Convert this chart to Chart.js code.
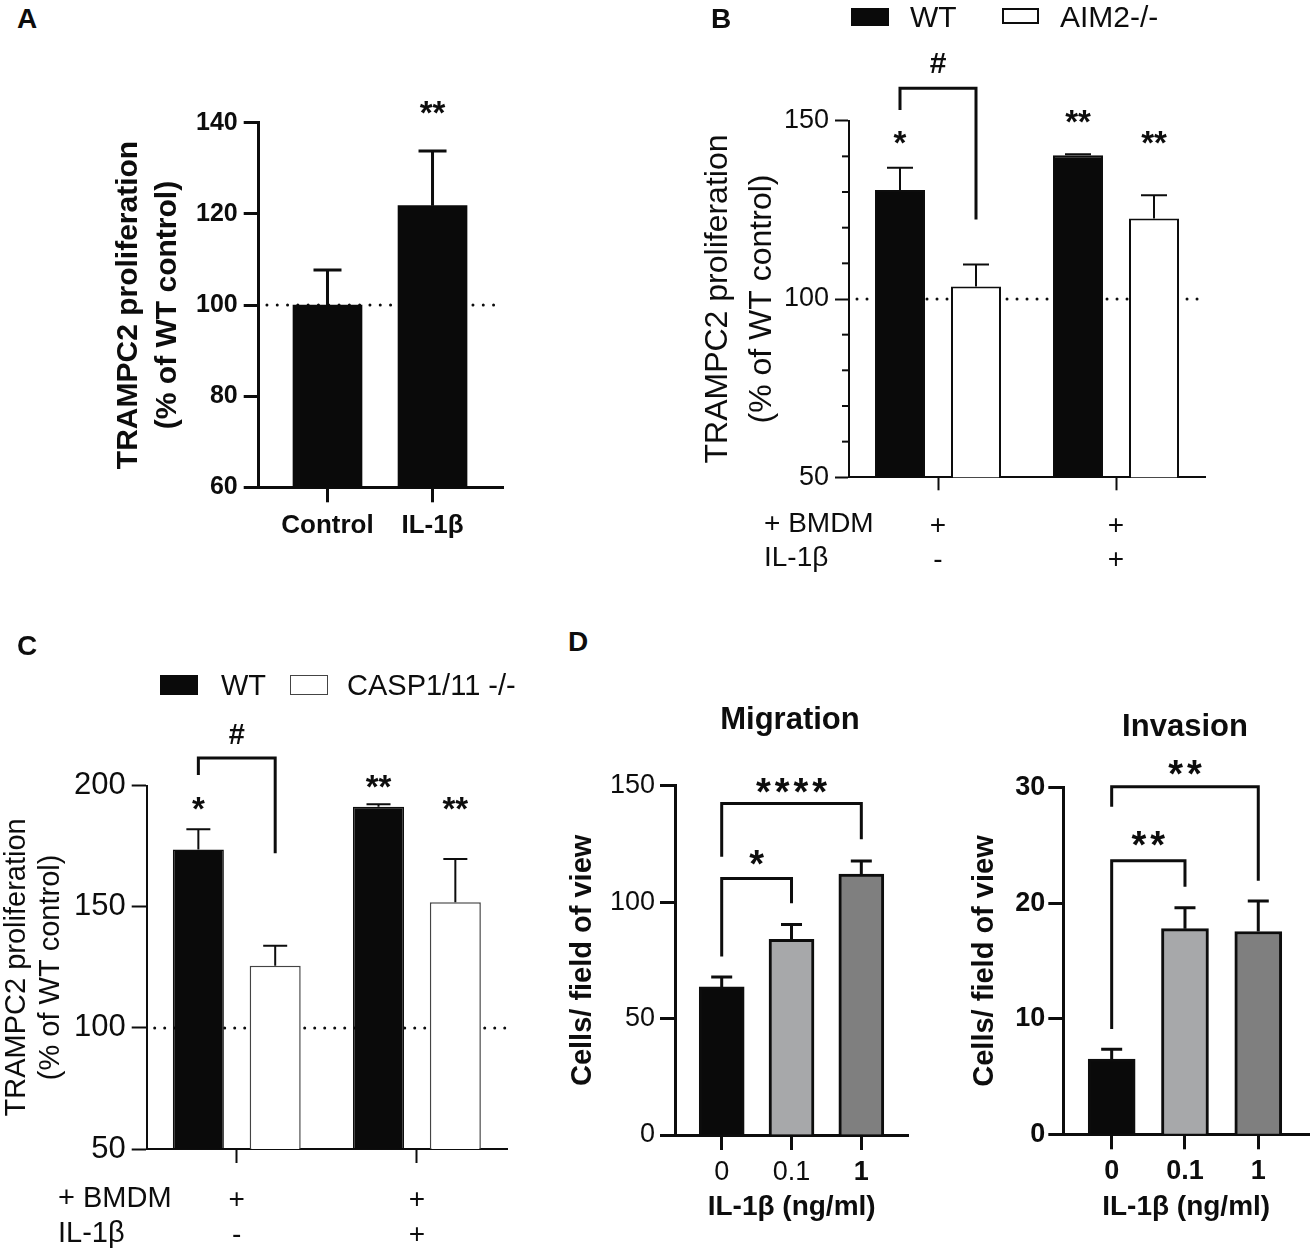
<!DOCTYPE html>
<html><head><meta charset="utf-8">
<script src="https://cdn.jsdelivr.net/npm/chart.js@4.4.1/dist/chart.umd.min.js"></script>
<style>
html,body{margin:0;padding:0;background:#fff;}
#page{position:relative;width:1312px;height:1249px;overflow:hidden;background:#fff;font-family:'Liberation Sans',Arial,sans-serif;color:#0d0d0d;}
canvas{position:absolute;}
.t{position:absolute;white-space:nowrap;line-height:1;}
.c{transform:translate(-50%,-50%);}
.l{transform:translate(0,-50%);}
.box{position:absolute;box-sizing:border-box;}
</style></head>
<body><div id="page">
<canvas id="cA"></canvas>
<canvas id="cB"></canvas>
<canvas id="cC"></canvas>
<canvas id="cDm"></canvas>
<canvas id="cDi"></canvas>

<div class="t c" style="left:27px;top:19px;font-size:28px;font-weight:bold">A</div>
<div class="t c" style="left:721px;top:19px;font-size:28px;font-weight:bold">B</div>
<div class="t c" style="left:27px;top:646px;font-size:28px;font-weight:bold">C</div>
<div class="t c" style="left:578px;top:642px;font-size:28px;font-weight:bold">D</div>

<div class="box" style="left:851px;top:8px;width:38px;height:18px;background:#0a0a0a"></div>
<div class="t l" id="bLeg1" style="left:910px;top:17px;font-size:30px"></div>
<div class="box" style="left:1002px;top:8px;width:37px;height:16px;border:2px solid #0d0d0d;background:#fff"></div>
<div class="t l" id="bLeg2" style="left:1060px;top:17px;font-size:30px"></div>

<div class="box" style="left:160px;top:675px;width:38px;height:20px;background:#0a0a0a"></div>
<div class="t l" id="cLeg1" style="left:221px;top:685px;font-size:29px"></div>
<div class="box" style="left:290px;top:675px;width:38px;height:20px;border:1.5px solid #444;background:#fff"></div>
<div class="t l" id="cLeg2" style="left:347px;top:685px;font-size:29px"></div>

<div class="t l" style="left:764px;top:523px;font-size:28px">+ BMDM</div>
<div class="t l" style="left:764px;top:557px;font-size:28px">IL-1β</div>
<div class="t l" style="left:58px;top:1197px;font-size:29px">+ BMDM</div>
<div class="t l" style="left:58px;top:1232px;font-size:29px">IL-1β</div>

<div class="t c" style="left:790px;top:718px;font-size:31px;font-weight:bold">Migration</div>
<div class="t c" style="left:1185px;top:725px;font-size:31px;font-weight:bold">Invasion</div>
</div>
<script>
const FONT = "'Liberation Sans', Arial, sans-serif";
const INK = '#0d0d0d';

// ---------- Panel A ----------
const aCategories = ['Control', 'IL-1β'];
const aValues = [100, 121.8];
const aErrors = [7.7, 12.0];
const aSignificance = ['', '**'];

// ---------- Panel B ----------
const bGroups = [['+', '-'], ['+', '+']];
const bSeries = ['WT', 'AIM2-/-'];
const bWT = [130.6, 140.3];
const bWTErr = [6.2, 0.3];
const bAIM2 = [103.5, 122.6];
const bAIM2Err = [6.2, 6.5];
const bWTSignificance = ['*', '**'];
const bAIM2Significance = ['', '**'];
const bComparison = '#';

// ---------- Panel C ----------
const cGroups = [['+', '-'], ['+', '+']];
const cSeries = ['WT', 'CASP1/11 -/-'];
const cWT = [173.7, 191.3];
const cWTErr = [8.3, 1.0];
const cCASP = [125.7, 151.9];
const cCASPErr = [8.2, 17.8];
const cWTSignificance = ['*', '**'];
const cCASPSignificance = ['', '**'];
const cComparison = '#';

// ---------- Panel D ----------
const dDoses = ['0', '0.1', '1'];
const dMigration = [63.6, 84.0, 112.0];
const dMigrationErr = [4.3, 6.4, 5.7];
const dMigrationComparisons = [[0, 1, '*'], [0, 2, '****']];
const dInvasion = [6.5, 17.8, 17.55];
const dInvasionErr = [0.87, 1.8, 2.65];
const dInvasionComparisons = [[0, 1, '**'], [0, 2, '**']];

document.getElementById('bLeg1').textContent = bSeries[0];
document.getElementById('bLeg2').textContent = bSeries[1];
document.getElementById('cLeg1').textContent = cSeries[0];
document.getElementById('cLeg2').textContent = cSeries[1];

function drawMark(ctx, text, x, py, f) {
  if (!text) return;
  ctx.font = `${f.weight} ${f.size}px ${FONT}`;
  const sp = f.spacing || 0;
  try { ctx.letterSpacing = sp + 'px'; } catch (e) {}
  ctx.textAlign = 'center';
  ctx.textBaseline = 'alphabetic';
  const k = text.includes('#') ? 0.35 : 0.585;
  ctx.fillText(text, x + sp / 2, py + k * f.size);
  try { ctx.letterSpacing = '0px'; } catch (e) {}
}

const annot = {
  id: 'annot',
  beforeDatasetsDraw(chart, args, o) {
    if (o.refLine == null) return;
    const {ctx, chartArea: a, scales: {y}} = chart;
    const py = y.getPixelForValue(o.refLine);
    ctx.save();
    ctx.strokeStyle = INK; ctx.lineWidth = o.dot; ctx.lineCap = 'round';
    ctx.setLineDash([0.001, o.gap]);
    ctx.beginPath(); ctx.moveTo(a.left + o.gap * 0.8, py); ctx.lineTo(a.right - 1, py); ctx.stroke();
    ctx.restore();
  },
  afterDraw(chart, args, o) {
    const {ctx, chartArea: a, scales: {y}} = chart;
    ctx.save();
    ctx.strokeStyle = INK; ctx.fillStyle = INK; ctx.lineCap = 'butt'; ctx.lineJoin = 'miter';
    if (o.minor) {
      ctx.lineWidth = o.minor.width;
      for (let v = y.min; v <= y.max + 1e-9; v += o.minor.step) {
        if (Math.abs(v % o.minor.major) < 1e-9) continue;
        const py = y.getPixelForValue(v);
        ctx.beginPath(); ctx.moveTo(a.left - o.minor.len, py); ctx.lineTo(a.left, py); ctx.stroke();
      }
    }
    const bar = (ds, i) => chart.getDatasetMeta(ds).data[i];
    const val = (ds, i) => { const d = chart.data.datasets[ds].data[i]; return typeof d === 'object' ? d.y : d; };
    ctx.lineWidth = o.errWidth;
    (o.errors || []).forEach((errs, ds) => errs.forEach((e, i) => {
      const b = bar(ds, i), v = val(ds, i);
      const y0 = y.getPixelForValue(v), y1 = y.getPixelForValue(v + e);
      ctx.beginPath(); ctx.moveTo(b.x, y0); ctx.lineTo(b.x, y1);
      ctx.moveTo(b.x - o.cap / 2, y1); ctx.lineTo(b.x + o.cap / 2, y1); ctx.stroke();
    }));
    ctx.lineWidth = o.bracketWidth || 3;
    (o.brackets || []).forEach(br => {
      const x1 = bar(br.from[0], br.from[1]).x, x2 = bar(br.to[0], br.to[1]).x;
      const yt = y.getPixelForValue(br.top);
      ctx.beginPath();
      ctx.moveTo(x1, y.getPixelForValue(br.left)); ctx.lineTo(x1, yt);
      ctx.lineTo(x2, yt); ctx.lineTo(x2, y.getPixelForValue(br.right));
      ctx.stroke();
      drawMark(ctx, br.label, (x1 + x2) / 2, y.getPixelForValue(br.labelAt), o.labelFont);
    });
    (o.stars || []).forEach(s => s.labels.forEach((t, i) => {
      if (!t) return;
      drawMark(ctx, t, bar(s.ds, i).x, y.getPixelForValue(s.at[i]), o.starFont);
    }));
    ctx.restore();
  }
};

function place(id, box, area, cfg) {
  const cv = document.getElementById(id);
  const w = box.r - box.l, h = box.b - box.t;
  Object.assign(cv.style, {left: box.l + 'px', top: box.t + 'px', width: w + 'px', height: h + 'px'});
  cv.width = w; cv.height = h;
  const o = cfg.options;
  o.responsive = false; o.maintainAspectRatio = false; o.animation = false;
  o.layout = {padding: {left: 0, top: area.t - box.t, right: box.r - area.r, bottom: 0}};
  o.scales.x.afterFit = s => { s.height = box.b - area.b; };
  o.scales.y.afterFit = s => { s.width = area.l - box.l; };
  o.plugins.legend = {display: false};
  o.plugins.tooltip = {enabled: false};
  cfg.plugins = [annot];
  return new Chart(cv, cfg);
}

const f = (size, weight, lineHeight) => ({family: FONT, size, weight: weight || 'normal', lineHeight: lineHeight || 1.2});
const grid = (w, tl, extra) => Object.assign({display: true, drawOnChartArea: false, drawTicks: true, tickLength: tl, tickWidth: w, tickColor: INK, offset: false}, extra || {});
const border = w => ({display: true, color: INK, width: w});
const points = vals => vals.map((v, i) => ({x: i, y: v}));

// ---------- A ----------
place('cA', {l: 90, t: 60, r: 540, b: 560}, {l: 258.7, t: 122.7, r: 503, b: 487.3}, {
  type: 'bar',
  data: {datasets: [{data: points(aValues), backgroundColor: '#0a0a0a', borderWidth: 0, barThickness: 69}]},
  options: {
    scales: {
      x: {type: 'linear', min: -0.655, max: 1.671, offset: false, z: 1,
          afterBuildTicks: s => { s.ticks = aCategories.map((c, i) => ({value: i})); },
          ticks: {autoSkip: false, maxRotation: 0, color: INK, font: f(26, 'bold'), padding: 8, callback: v => aCategories[v]},
          grid: grid(3, 15), border: border(3)},
      y: {type: 'linear', min: 60, max: 140,
          ticks: {stepSize: 20, autoSkip: false, color: INK, font: f(25, 'bold'), padding: 6},
          grid: grid(3, 15), border: border(3),
          title: {display: true, text: ['TRAMPC2 proliferation', '(% of WT control)'], color: INK,
                  font: f(30, 'bold', 1.3), padding: {top: 19.5, bottom: 0}}}
    },
    plugins: {annot: {refLine: 100, dot: 3, gap: 10.3, errWidth: 3, cap: 28,
      errors: [aErrors],
      stars: [{ds: 0, labels: aSignificance, at: [0, 143.9]}],
      starFont: {size: 33, weight: 'bold'}}}
  }
});

// ---------- B ----------
place('cB', {l: 690, t: 0, r: 1240, b: 590}, {l: 849, t: 120.7, r: 1205, b: 477.3}, {
  type: 'bar',
  data: {labels: bGroups, datasets: [
    {label: bSeries[0], data: bWT, backgroundColor: '#0a0a0a', borderColor: INK, borderWidth: 2},
    {label: bSeries[1], data: bAIM2, backgroundColor: '#ffffff', borderColor: INK, borderWidth: 2}
  ]},
  options: {
    datasets: {bar: {categoryPercentage: 0.854, barPercentage: 0.658}},
    scales: {
      x: {type: 'category', offset: true, z: 1,
          ticks: {autoSkip: false, maxRotation: 0, color: INK, font: f(28, 'normal', 1.22), padding: 19},
          grid: grid(2, 13), border: border(2)},
      y: {type: 'linear', min: 50, max: 150,
          ticks: {stepSize: 10, autoSkip: false, color: INK, font: f(27), padding: 6,
                  callback: v => (v % 50 === 0 ? v : '')},
          grid: grid(2, 14, {tickColor: c => (c.tick && c.tick.value % 50 === 0) ? INK : 'rgba(0,0,0,0)'}),
          border: border(2),
          title: {display: true, text: ['TRAMPC2 proliferation', '(% of WT control)'], color: INK,
                  font: f(32, 'normal', 1.375), padding: {top: 6.3, bottom: 0}}}
    },
    plugins: {annot: {refLine: 100, dot: 3, gap: 10, errWidth: 2, cap: 26, bracketWidth: 3,
      minor: {step: 10, major: 50, len: 7, width: 2},
      errors: [bWTErr, bAIM2Err],
      brackets: [{from: [0, 0], to: [1, 0], top: 159.1, left: 153.0, right: 122.3, label: bComparison, labelAt: 166.2}],
      stars: [{ds: 0, labels: bWTSignificance, at: [146.0, 152.1]}, {ds: 1, labels: bAIM2Significance, at: [0, 146.0]}],
      labelFont: {size: 30, weight: 'bold'}, starFont: {size: 33, weight: 'bold'}}}
  }
});

// ---------- C ----------
place('cC', {l: 0, t: 640, r: 530, b: 1249}, {l: 146.7, t: 785.7, r: 507, b: 1149}, {
  type: 'bar',
  data: {labels: cGroups, datasets: [
    {label: cSeries[0], data: cWT, backgroundColor: '#0a0a0a', borderColor: INK, borderWidth: 1.5},
    {label: cSeries[1], data: cCASP, backgroundColor: '#ffffff', borderColor: '#444', borderWidth: 1.5}
  ]},
  options: {
    datasets: {bar: {categoryPercentage: 0.853, barPercentage: 0.664}},
    scales: {
      x: {type: 'category', offset: true, z: 1,
          ticks: {autoSkip: false, maxRotation: 0, color: INK, font: f(28, 'normal', 1.25), padding: 20},
          grid: grid(2, 14), border: border(2)},
      y: {type: 'linear', min: 50, max: 200,
          ticks: {stepSize: 50, autoSkip: false, color: INK, font: f(31), padding: 6},
          grid: grid(2, 15), border: border(2),
          title: {display: true, text: ['TRAMPC2 proliferation', '(% of WT control)'], color: INK,
                  font: f(29, 'normal', 1.18), padding: {top: 0, bottom: 0}}}
    },
    plugins: {annot: {refLine: 100, dot: 3, gap: 10, errWidth: 2, cap: 24, bracketWidth: 3,
      errors: [cWTErr, cCASPErr],
      brackets: [{from: [0, 0], to: [1, 0], top: 211.4, left: 204.4, right: 172.1, label: cComparison, labelAt: 221.3}],
      stars: [{ds: 0, labels: cWTSignificance, at: [194.0, 203.0]}, {ds: 1, labels: cCASPSignificance, at: [0, 194.0]}],
      labelFont: {size: 29, weight: 'bold'}, starFont: {size: 33, weight: 'bold'}}}
  }
});

// ---------- D ----------
const dBarColors = ['#0a0a0a', '#a7a8aa', '#7f7f7f'];
function dChart(id, box, area, vals, errs, comps, yMax, yStep, xMin, xMax, thick, yBold, titlePad, yPad, brVals) {
  return place(id, box, area, {
    type: 'bar',
    data: {datasets: [{data: points(vals), backgroundColor: dBarColors, borderColor: INK, borderWidth: 3, barThickness: thick}]},
    options: {
      scales: {
        x: {type: 'linear', min: xMin, max: xMax, offset: false, z: 1,
            afterBuildTicks: s => { s.ticks = dDoses.map((c, i) => ({value: i})); },
            ticks: {autoSkip: false, maxRotation: 0, color: INK, padding: 6, callback: v => dDoses[v],
                    font: c => f(27, (c.tick && c.tick.value === 2) || yBold ? 'bold' : 'normal')},
            grid: grid(3, 15), border: border(3),
            title: {display: true, text: 'IL-1β (ng/ml)', color: INK, font: f(28, 'bold', 1.2), padding: {top: 0, bottom: 25}}},
        y: {type: 'linear', min: 0, max: yMax,
            ticks: {stepSize: yStep, autoSkip: false, color: INK, font: f(27, yBold ? 'bold' : 'normal'), padding: yPad},
            grid: grid(3, 15), border: border(3),
            title: {display: true, text: 'Cells/ field of view', color: INK, font: f(29, 'bold', 1.2), padding: {top: titlePad, bottom: 0}}}
      },
      plugins: {annot: {errWidth: 3, cap: 21, bracketWidth: 3,
        errors: [errs],
        brackets: comps.map((c, k) => ({from: [0, c[0]], to: [0, c[1]], label: c[2],
          top: brVals[k][0], left: brVals[k][1], right: brVals[k][2], labelAt: brVals[k][3]})),
        labelFont: {size: 38, weight: 'bold', spacing: 4}}}
    }
  });
}
dChart('cDm', {l: 560, t: 690, r: 920, b: 1249}, {l: 675, t: 785.7, r: 908.3, b: 1135},
  dMigration, dMigrationErr, dMigrationComparisons, 150, 50, -0.669, 2.673, 45, false, 5.9, 5,
  [[110.2, 76.6, 99.5, 120.2], [142.4, 119.5, 127.0, 151.4]]);
dChart('cDi', {l: 920, t: 690, r: 1312, b: 1249}, {l: 1063.3, t: 787.7, r: 1309, b: 1134.3},
  dInvasion, dInvasionErr, dInvasionComparisons, 30, 10, -0.66, 2.692, 47, true, 47.6, 3,
  [[23.68, 9.11, 21.43, 25.8], [30.09, 28.36, 21.95, 31.97]]);
</script>
</body></html>
